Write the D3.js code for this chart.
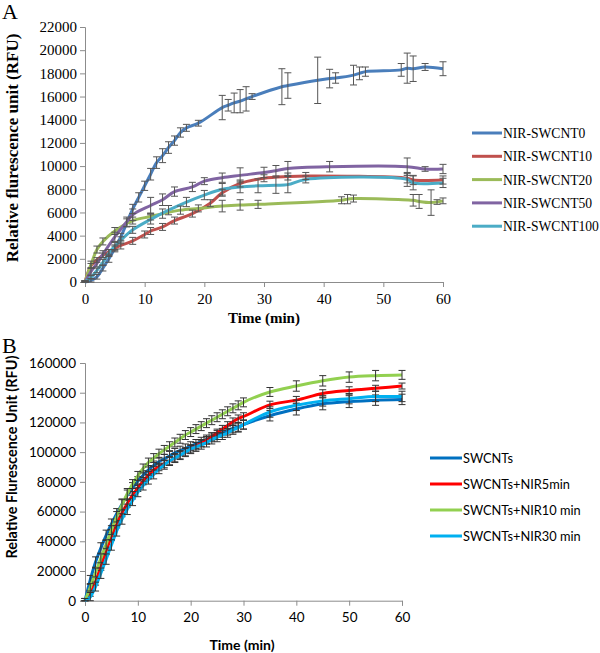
<!DOCTYPE html>
<html>
<head>
<meta charset="utf-8">
<script src="https://cdn.jsdelivr.net/npm/d3@7"></script>
<style>
  body { margin: 0; background: #fff; }
  svg { display: block; }
</style>
</head>
<body>
<script>
// ---- panel A data (time in min, RFU, +/- error) ----
var tA0 = [0,1,2,3,4,5,6,7,8,9,10,11,12,13,14,15,16,17,19,23,24,25,26,27,28,33,34,39,41,42,45,46,47,53,54,55,57,60];
var vA0 = [0,150,450,1200,2000,2900,3900,5100,6300,7300,8300,9300,10300,10900,11600,12200,12900,13300,13700,15050,15250,15450,15600,15800,16000,16850,16950,17400,17550,17600,17850,18000,18150,18300,18450,18400,18550,18400];
var eA0 = [100,150,200,250,300,300,300,350,400,400,400,500,500,600,500,400,400,300,250,1050,500,850,1000,1050,250,1550,1100,2000,800,450,850,550,400,550,1300,1100,300,600];

var tA10 = [0,1,2,3,4,5,6,8,10,11,13,15,18,21,23,26,30,34,37,54,55,60];
var vA10 = [0,1400,1900,2300,2600,2900,3150,3550,4100,4400,4750,5300,5900,6800,7700,8500,8950,9100,9150,8950,8800,8800];
var eA10 = [100,200,200,200,200,200,300,300,300,300,300,300,300,300,300,300,300,300,300,400,400,350];

var tA20 = [0,1,2,3,5,8,11,13,16,19,23,26,29,43,44,45,55,56,58,59,60];
var vA20 = [0,1500,2800,3500,4400,5300,5650,5900,6200,6350,6550,6650,6700,7050,7150,7200,7050,6950,6850,6900,7000];
var eA20 = [100,300,300,300,300,300,300,400,350,300,500,450,350,300,400,300,500,600,1100,200,250];

var tA50 = [0,1,2,3,5,7,8,11,13,15,18,20,23,26,30,32,34,41,54,57,60];
var vA50 = [0,900,1600,2400,3900,5200,5800,6600,7100,7800,8200,8700,9000,9200,9450,9600,9800,9950,9950,9750,9750];
var eA50 = [100,300,300,300,400,400,500,700,500,400,400,300,400,650,450,450,600,450,750,200,400];

var tA100 = [0,1,2,3,4,5,6,8,11,14,17,20,23,26,29,32,34,37,54,55,60];
var vA100 = [0,400,1000,1700,2500,3100,3600,4500,5400,6200,6900,7500,8000,8200,8300,8350,8400,8850,8850,8550,8550];
var eA100 = [100,150,200,250,300,300,300,300,400,400,400,400,500,500,600,700,700,300,600,600,400];

var namesA = ["NIR-SWCNT0","NIR-SWCNT10","NIR-SWCNT20","NIR-SWCNT50","NIR-SWCNT100"];
var colorsA = ["#4a7ebb","#c0504d","#9bbb59","#8064a2","#4bacc6"];
var yTicksA = [0,2000,4000,6000,8000,10000,12000,14000,16000,18000,20000,22000];
var xTicks = [0,10,20,30,40,50,60];

// ---- panel B data ----
var tB = [0,1,2,3,4,5,6,7,8,9,10,11,12,13,14,15,16,17,18,19,20,21,22,23,24,25,26,27,28,29,30,35,40,45,50,55,60];
var vB0 = [0,14000,26000,35500,44000,51500,58500,65000,71000,76000,80500,84500,88000,91000,93500,95500,97500,99500,101000,102500,104000,105500,107000,108500,110000,111500,113000,114500,116000,117000,118500,124500,129000,132500,134000,135000,135500];
var vB5 = [0,5000,13000,23000,33500,43000,51500,59000,65500,71000,76000,80500,84500,88000,90000,92000,94000,96000,98000,100000,102000,104000,106000,108000,110500,113000,115500,118000,120500,122500,124000,131800,135000,139500,141500,143000,144500];
var vB10 = [0,9000,19000,28500,38000,47500,56500,64500,72000,78500,84000,89000,93000,96000,99000,101500,104000,106500,109000,111500,113500,115500,117500,119500,121500,123500,125500,127500,129500,131500,133500,140500,144500,148000,150500,151500,152000];
var vB30 = [0,2500,9500,18500,28000,37500,47000,55000,61500,67500,73000,77500,81500,85000,88500,91500,94000,96000,98000,100000,102000,103500,105000,106500,108500,110000,111500,113000,115000,116500,118500,127000,131500,134500,136000,137500,137500];
var eB0 = [1500,3000,3500,3500,3500,3500,3500,3500,3500,3500,3000,3000,3000,3000,3000,3000,3000,3000,3000,3000,3000,3000,3000,3000,3000,3000,3000,3000,3000,3000,3000,3500,4000,4000,4000,3500,3500];
var eB5 = [1500,2000,2500,2500,2500,2500,2500,2500,2500,2500,2500,2500,2500,2500,2500,2500,2500,2500,2500,2500,2500,2500,2500,2500,2500,2500,2500,2500,2500,2500,2500,2500,2500,2500,2500,2000,2000];
var eB10 = [1500,2500,3000,3000,3000,3000,3500,3500,3500,3000,3000,3000,3000,3000,3000,3000,3000,3000,3000,3000,3000,3000,3000,3000,3000,3000,3000,3000,3000,3000,3000,3000,3500,3500,3500,3500,3000];
var eB30 = [1500,3000,3000,3500,3500,3500,3500,3500,3500,3500,3000,3000,3000,3000,3000,3000,3000,3000,3000,3000,3000,3000,3000,3000,3000,3000,3000,3000,3000,3000,3000,3500,3500,3500,3500,3500,3500];

var namesB = ["SWCNTs","SWCNTs+NIR5min","SWCNTs+NIR10 min","SWCNTs+NIR30 min"];
var colorsB = ["#0070c0","#ff0000","#92d050","#00b0f0"];
var yTicksB = [0,20000,40000,60000,80000,100000,120000,140000,160000];

function f() {
    var svg = d3.select("body").append("svg")
        .attr("width", 600)
        .attr("height", 653);

    var serif = "'Liberation Serif', 'Times New Roman', serif";
    var sans = "Lato, 'Open Sans', sans-serif";

    // ======== panel A ========
    var xA = d3.scaleLinear().domain([0, 60]).range([85, 443]);
    var yA = d3.scaleLinear().domain([0, 22000]).range([282, 27]);

    var gA = svg.append("g");

    var axA_y = gA.append("g")
        .attr("transform", "translate(85,0)")
        .call(d3.axisLeft(yA).tickValues(yTicksA).tickSize(5).tickPadding(3).tickFormat(d3.format("d")));
    var axA_x = gA.append("g")
        .attr("transform", "translate(0,282)")
        .call(d3.axisBottom(xA).tickValues(xTicks).tickSize(5).tickPadding(6));
    [axA_y, axA_x].forEach(function(ax) {
        ax.selectAll("path, line").attr("stroke", "#8c8c8c");
        ax.selectAll("text").style("font-family", serif).style("font-size", "15px").attr("fill", "#000");
    });

    var seriesA = [
        {t: tA0, v: vA0, e: eA0},
        {t: tA10, v: vA10, e: eA10},
        {t: tA20, v: vA20, e: eA20},
        {t: tA50, v: vA50, e: eA50},
        {t: tA100, v: vA100, e: eA100}
    ];

    var lineA = d3.line()
        .x(function(d) { return xA(d[0]); })
        .y(function(d) { return yA(d[1]); })
        .curve(d3.curveCatmullRom.alpha(0.5));

    seriesA.forEach(function(s, i) {
        var pts = s.t.map(function(t, j) { return [t, s.v[j], s.e[j]]; });
        gA.append("path")
            .datum(pts)
            .attr("fill", "none")
            .attr("stroke", colorsA[i])
            .attr("stroke-width", 3)
            .attr("stroke-linejoin", "round")
            .attr("d", lineA);
    });
    seriesA.forEach(function(s, i) {
        var pts = s.t.map(function(t, j) { return [t, s.v[j], s.e[j]]; });
        var eb = gA.append("g").attr("stroke", "#555").attr("stroke-width", 1);
        pts.forEach(function(d) {
            var cx = xA(d[0]), y1 = yA(d[1] + d[2]), y2 = yA(Math.max(0, d[1] - d[2]));
            eb.append("line").attr("x1", cx).attr("x2", cx).attr("y1", y1).attr("y2", y2);
            eb.append("line").attr("x1", cx - 3.5).attr("x2", cx + 3.5).attr("y1", y1).attr("y2", y1);
            eb.append("line").attr("x1", cx - 3.5).attr("x2", cx + 3.5).attr("y1", y2).attr("y2", y2);
        });
    });

    // legend A
    namesA.forEach(function(n, i) {
        var ly = 133 + i * 23.3;
        gA.append("line").attr("x1", 472).attr("x2", 502).attr("y1", ly).attr("y2", ly)
            .attr("stroke", colorsA[i]).attr("stroke-width", 3);
        gA.append("text").attr("x", 503).attr("y", ly + 5)
            .style("font-family", serif).style("font-size", "13.6px").text(n);
    });

    gA.append("text").attr("x", 264).attr("y", 323).attr("text-anchor", "middle")
        .style("font-family", serif).style("font-size", "15px").style("font-weight", "bold")
        .text("Time (min)");
    gA.append("text").attr("transform", "translate(18,148) rotate(-90)").attr("text-anchor", "middle")
        .style("font-family", serif).style("font-size", "17px").style("font-weight", "bold")
        .text("Relative flurescence unit (RFU)");
    gA.append("text").attr("x", 2).attr("y", 19)
        .style("font-family", serif).style("font-size", "22px").text("A");

    // ======== panel B ========
    var xB = d3.scaleLinear().domain([0, 60]).range([85, 402]);
    var yB = d3.scaleLinear().domain([0, 160000]).range([600.7, 363]);

    var gB = svg.append("g");

    var axB_y = gB.append("g")
        .attr("transform", "translate(85,0)")
        .call(d3.axisLeft(yB).tickValues(yTicksB).tickSize(5).tickPadding(4).tickFormat(d3.format("d")));
    var axB_x = gB.append("g")
        .attr("transform", "translate(0,600.7)")
        .call(d3.axisBottom(xB).tickValues(xTicks).tickSize(5).tickPadding(7));
    [axB_y, axB_x].forEach(function(ax) {
        ax.selectAll("path, line").attr("stroke", "#8c8c8c");
        ax.selectAll("text").style("font-family", sans).style("font-size", "13.5px").attr("fill", "#000");
    });

    var seriesB = [
        {v: vB0, e: eB0},
        {v: vB5, e: eB5},
        {v: vB10, e: eB10},
        {v: vB30, e: eB30}
    ];

    var lineB = d3.line()
        .x(function(d) { return xB(d[0]); })
        .y(function(d) { return yB(d[1]); })
        .curve(d3.curveMonotoneX);

    seriesB.forEach(function(s, i) {
        var pts = tB.map(function(t, j) { return [t, s.v[j], s.e[j]]; });
        gB.append("path")
            .datum(pts)
            .attr("fill", "none")
            .attr("stroke", colorsB[i])
            .attr("stroke-width", 3)
            .attr("d", lineB);
        var eb = gB.append("g").attr("stroke", "#333").attr("stroke-width", 1);
        pts.forEach(function(d) {
            var cx = xB(d[0]), y1 = yB(d[1] + d[2]), y2 = yB(Math.max(0, d[1] - d[2]));
            eb.append("line").attr("x1", cx).attr("x2", cx).attr("y1", y1).attr("y2", y2);
            eb.append("line").attr("x1", cx - 3.5).attr("x2", cx + 3.5).attr("y1", y1).attr("y2", y1);
            eb.append("line").attr("x1", cx - 3.5).attr("x2", cx + 3.5).attr("y1", y2).attr("y2", y2);
        });
    });

    // legend B
    namesB.forEach(function(n, i) {
        var ly = 458 + i * 26;
        gB.append("line").attr("x1", 430).attr("x2", 462).attr("y1", ly).attr("y2", ly)
            .attr("stroke", colorsB[i]).attr("stroke-width", 3);
        gB.append("text").attr("x", 463).attr("y", ly + 5)
            .style("font-family", sans).style("font-size", "12.8px").text(n);
    });

    gB.append("text").attr("x", 242).attr("y", 650).attr("text-anchor", "middle")
        .style("font-family", sans).style("font-size", "14px").style("font-weight", "bold")
        .text("Time (min)");
    gB.append("text").attr("transform", "translate(17,457) rotate(-90)").attr("text-anchor", "middle")
        .style("font-family", sans).style("font-size", "14.5px").style("font-weight", "bold")
        .text("Relative Flurescence Unit (RFU)");
    gB.append("text").attr("x", 2).attr("y", 353)
        .style("font-family", serif).style("font-size", "22px").text("B");
}

f();
</script>
</body>
</html>
